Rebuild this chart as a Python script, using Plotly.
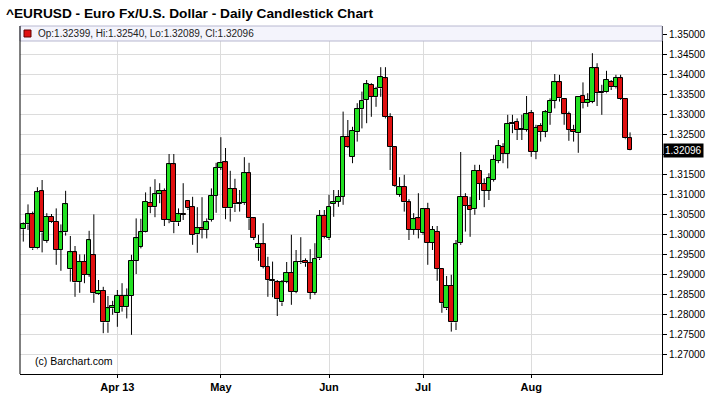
import plotly.graph_objects as go
import pandas as pd

# Trading days (Good Friday 2013-03-29 not in the data)
days = [d for d in pd.bdate_range("2013-03-01", "2013-08-30") if d != pd.Timestamp("2013-03-29")]
dates = [d.strftime("%Y-%m-%d") for d in days]

opens = [1.3012, 1.3024, 1.3049, 1.2964, 1.3107, 1.2983, 1.3043, 1.3031, 1.2960, 1.3004,
         1.2912, 1.2954, 1.2881, 1.2931, 1.2898, 1.2947, 1.2850, 1.2858, 1.2779, 1.2814,
         1.2802, 1.2846, 1.2817, 1.2846, 1.2933, 1.2968, 1.3006, 1.3078, 1.3067, 1.3099,
         1.3108, 1.3035, 1.3174, 1.3029, 1.3049, 1.3083, 1.3067, 1.2999, 1.3014, 1.3010,
         1.3035, 1.3096, 1.3166, 1.3179, 1.3064, 1.3113, 1.3076, 1.3077, 1.3152, 1.3039,
         1.2964, 1.2974, 1.2918, 1.2885, 1.2879, 1.2829, 1.2881, 1.2903, 1.2856, 1.2931,
         1.2933, 1.2927, 1.2853, 1.2939, 1.3046, 1.2989, 1.3075, 1.3081, 1.3093, 1.3243,
         1.3193, 1.3256, 1.3312, 1.3335, 1.3373, 1.3342, 1.3364, 1.3389, 1.3292, 1.3217,
         1.3098, 1.3118, 1.3079, 1.3010, 1.3039, 1.3002, 1.3062, 1.2978, 1.3006, 1.2913,
         1.2814, 1.2870, 1.2779, 1.2977, 1.3093, 1.3070, 1.3062, 1.3158, 1.3125, 1.3108,
         1.3135, 1.3183, 1.3218, 1.3200, 1.3277, 1.3281, 1.3262, 1.3260, 1.3302, 1.3206,
         1.3271, 1.3256, 1.3302, 1.3333, 1.3379, 1.3337, 1.3299, 1.3260, 1.3252, 1.3346,
         1.3328, 1.3331, 1.3414, 1.3356, 1.3354, 1.3381, 1.3367, 1.3389, 1.3337, 1.32399]
highs = [1.3029, 1.3074, 1.3056, 1.3117, 1.3135, 1.3052, 1.3050, 1.3064, 1.3024, 1.3108,
         1.2995, 1.2970, 1.2949, 1.2949, 1.3008, 1.3049, 1.2885, 1.2868, 1.2845, 1.2833,
         1.2860, 1.2877, 1.2864, 1.2948, 1.3039, 1.3038, 1.3104, 1.3118, 1.3137, 1.3127,
         1.3114, 1.3200, 1.3200, 1.3064, 1.3127, 1.3083, 1.3093, 1.3067, 1.3092, 1.3039,
         1.3114, 1.3178, 1.3242, 1.3215, 1.3158, 1.3138, 1.3110, 1.3192, 1.3178, 1.3042,
         1.2998, 1.3027, 1.2943, 1.2931, 1.2885, 1.2885, 1.2930, 1.2998, 1.2960, 1.2992,
         1.2939, 1.2962, 1.2977, 1.3060, 1.3060, 1.3098, 1.3110, 1.3110, 1.3306, 1.3285,
         1.3268, 1.3327, 1.3356, 1.3385, 1.3377, 1.3368, 1.3417, 1.3417, 1.3302, 1.3218,
         1.3142, 1.3148, 1.3087, 1.3052, 1.3102, 1.3064, 1.3078, 1.3020, 1.3020, 1.2913,
         1.2895, 1.2898, 1.2985, 1.3205, 1.3102, 1.3093, 1.3173, 1.3173, 1.3139, 1.3152,
         1.3198, 1.3235, 1.3227, 1.3298, 1.3298, 1.3289, 1.3298, 1.3345, 1.3310, 1.3273,
         1.3277, 1.3310, 1.3339, 1.3400, 1.3398, 1.3339, 1.3306, 1.3273, 1.3345, 1.3379,
         1.3352, 1.3452, 1.3427, 1.3373, 1.3408, 1.3385, 1.3398, 1.3398, 1.3339, 1.32540]
lows = [1.2981, 1.3010, 1.2960, 1.2962, 1.2954, 1.2978, 1.3028, 1.2923, 1.2908, 1.2996,
        1.2881, 1.2843, 1.2853, 1.2877, 1.2893, 1.2828, 1.2848, 1.2752, 1.2753, 1.2798,
        1.2768, 1.2806, 1.2789, 1.2748, 1.2900, 1.2964, 1.3004, 1.3052, 1.3042, 1.3077,
        1.3020, 1.3027, 1.3002, 1.3020, 1.3035, 1.3060, 1.2973, 1.2953, 1.2989, 1.2989,
        1.3031, 1.3053, 1.3160, 1.3037, 1.3031, 1.3055, 1.3056, 1.3073, 1.3010, 1.2985,
        1.2933, 1.2914, 1.2843, 1.2842, 1.2795, 1.2820, 1.2877, 1.2823, 1.2852, 1.2925,
        1.2918, 1.2837, 1.2848, 1.2935, 1.2989, 1.2985, 1.3043, 1.3068, 1.3073, 1.3215,
        1.3177, 1.3231, 1.3264, 1.3277, 1.3293, 1.3318, 1.3343, 1.3289, 1.3160, 1.3118,
        1.3093, 1.3056, 1.2985, 1.2998, 1.2989, 1.2998, 1.2923, 1.2960, 1.2883, 1.2803,
        1.2810, 1.2756, 1.2760, 1.2973, 1.3006, 1.2993, 1.3048, 1.3085, 1.3067, 1.3085,
        1.3131, 1.3177, 1.3177, 1.3164, 1.3252, 1.3235, 1.3235, 1.3256, 1.3193, 1.3187,
        1.3231, 1.3242, 1.3273, 1.3314, 1.3331, 1.3273, 1.3233, 1.3231, 1.3203, 1.3314,
        1.3318, 1.3327, 1.3320, 1.3298, 1.3352, 1.3360, 1.3364, 1.3335, 1.3237, 1.32089]
closes = [1.3024, 1.3049, 1.2964, 1.3104, 1.3004, 1.3043, 1.3031, 1.2960, 1.3004, 1.3074,
          1.2954, 1.2879, 1.2931, 1.2898, 1.2984, 1.2852, 1.2858, 1.2779, 1.2814, 1.2821,
          1.2846, 1.2817, 1.2846, 1.2933, 1.2989, 1.3006, 1.3081, 1.3068, 1.3099, 1.3108,
          1.3035, 1.3174, 1.3029, 1.3049, 1.3048, 1.3064, 1.2998, 1.3014, 1.3010, 1.3029,
          1.3096, 1.3166, 1.3177, 1.3064, 1.3113, 1.3074, 1.3078, 1.3152, 1.3039, 1.2991,
          1.2974, 1.2918, 1.2885, 1.2883, 1.2837, 1.2879, 1.2903, 1.2856, 1.2931, 1.2929,
          1.2927, 1.2853, 1.2938, 1.3046, 1.2993, 1.3068, 1.3081, 1.3093, 1.3243, 1.3217,
          1.3258, 1.3312, 1.3333, 1.3374, 1.3343, 1.3363, 1.3392, 1.3292, 1.3217, 1.3121,
          1.3117, 1.3079, 1.3010, 1.3037, 1.3010, 1.3062, 1.2978, 1.3010, 1.2913, 1.2827,
          1.2870, 1.2779, 1.2974, 1.3093, 1.3070, 1.3060, 1.3158, 1.3125, 1.3108, 1.3139,
          1.3185, 1.3221, 1.3200, 1.3275, 1.3274, 1.3260, 1.3260, 1.3299, 1.3206, 1.3266,
          1.3256, 1.3304, 1.3333, 1.3379, 1.3339, 1.3300, 1.3260, 1.3256, 1.3343, 1.3327,
          1.3335, 1.3414, 1.3353, 1.3352, 1.3385, 1.3367, 1.3391, 1.3337, 1.3239, 1.32096]

month_ticks = ["2013-04-01", "2013-05-01", "2013-06-03", "2013-07-01", "2013-08-01"]
month_labels = ["Apr 13", "May", "Jun", "Jul", "Aug"]
price_ticks = [round(1.27 + 0.005 * k, 3) for k in range(17)]

title_text = "^EURUSD - Euro Fx/U.S. Dollar - Daily Candlestick Chart"
last = (opens[-1], highs[-1], lows[-1], closes[-1])
legend_text = "Op:%.5f, Hi:%.5f, Lo:%.5f, Cl:%.5f" % last

UP, DOWN = "#22e022", "#e01010"

# the last-price box covers the tick label nearest to the last close
price_labels = ["" if abs(v - closes[-1]) < 0.0025 else "%.5f" % v for v in price_ticks]

# candle parts derived from the OHLC lists
body_top = [max(o, c) for o, c in zip(opens, closes)]
body_bot = [min(o, c) for o, c in zip(opens, closes)]
body_len = [max(t - b, 0.00004) for t, b in zip(body_top, body_bot)]
body_col = [UP if c >= o else DOWN for o, c in zip(opens, closes)]

wick_x, wick_y = [], []
for d, h, l, t, b in zip(dates, highs, lows, body_top, body_bot):
    wick_x += [d, d, None, d, d, None]
    wick_y += [h, t, None, b, l, None]

fig = go.Figure()
fig.add_trace(go.Scatter(
    x=wick_x, y=wick_y, mode="lines", line=dict(color="#000", width=1),
    hoverinfo="skip", showlegend=False, connectgaps=False,
))
fig.add_trace(go.Bar(
    x=dates, y=body_len, base=body_bot, width=1.0,
    marker=dict(color=body_col, line=dict(color="#000", width=1)),
    customdata=list(zip(opens, highs, lows, closes)),
    hovertemplate="%{x}<br>O %{customdata[0]:.5f} H %{customdata[1]:.5f}"
                  "<br>L %{customdata[2]:.5f} C %{customdata[3]:.5f}<extra></extra>",
    showlegend=False,
))

n = len(dates)
W, H = 724, 396
L, R, T, B = 20, 62, 26, 22
pw, ph = W - L - R, H - T - B

fig.update_layout(
    width=W, height=H,
    margin=dict(l=L, r=R, t=T, b=B, pad=0, autoexpand=False),
    paper_bgcolor="white", plot_bgcolor="white",
    bargap=0.0,
    font=dict(family="Liberation Sans, Arial, sans-serif", size=10, color="#000"),
    xaxis=dict(
        type="category", categoryorder="array", categoryarray=dates,
        range=[-0.7, n - 1 + 6.8], automargin=False,
        tickmode="array", tickvals=month_ticks, ticktext=month_labels,
        showgrid=True, gridcolor="#dcdcdc", gridwidth=1,
        showline=True, linecolor="#000", linewidth=1, mirror=False,
        ticks="outside", ticklen=3, tickcolor="#000",
        tickfont=dict(family="Liberation Sans Narrow, Arial Narrow, Liberation Sans", size=11, color="#000", weight="bold"),
        zeroline=False, fixedrange=True,
    ),
    yaxis=dict(
        side="right", range=[1.265, 1.352], automargin=False,
        tickmode="array", tickvals=price_ticks, ticktext=price_labels,
        showgrid=True, gridcolor="#dcdcdc", gridwidth=1,
        showline=True, linecolor="#000", linewidth=1,
        ticks="outside", ticklen=4, tickcolor="#000",
        tickfont=dict(family="Liberation Sans, Arial", size=10, color="#000"),
        zeroline=False, fixedrange=True,
    ),
    shapes=[
        dict(type="rect", xref="paper", yref="paper", x0=0, x1=1, y0=1 - 15 / ph, y1=1,
             fillcolor="#f4f4fc", line=dict(color="#b8b8d0", width=1), layer="above"),
        dict(type="line", xref="paper", yref="paper", x0=0, x1=0, y0=0, y1=1,
             line=dict(color="#000", width=1)),
        dict(type="rect", xref="paper", yref="paper", x0=4 / pw, x1=11 / pw,
             y0=1 - 11 / ph, y1=1 - 4 / ph,
             fillcolor=DOWN, line=dict(color="#600000", width=1), layer="above"),
    ],
    annotations=[
        dict(text="<b>" + title_text + "</b>", xref="paper", yref="paper",
             x=-16 / pw, y=1 + 13 / ph, xanchor="left", yanchor="middle", showarrow=False,
             font=dict(family="Liberation Sans, Arial", size=13.7, color="#000")),
        dict(text=legend_text, xref="paper", yref="paper",
             x=16 / pw, y=1 - 8 / ph, xanchor="left", yanchor="middle", showarrow=False,
             font=dict(family="Liberation Sans, Arial", size=10, color="#222")),
        dict(text="(c) Barchart.com", xref="paper", yref="paper",
             x=13 / pw, y=13 / ph, xanchor="left", yanchor="middle", showarrow=False,
             font=dict(family="Liberation Sans, Arial", size=10.5, color="#000")),
        dict(text="%.5f" % closes[-1], xref="paper", yref="y",
             x=1 + 1 / pw, y=closes[-1], xanchor="left", yanchor="middle", showarrow=False,
             bgcolor="#000", borderpad=1,
             font=dict(family="Liberation Sans, Arial", size=10, color="#fff")),
    ],
)

fig.write_html(
    "out.html",
    config={"displayModeBar": False},
    post_script="document.body.style.margin='0px';document.body.style.padding='0px';",
)
